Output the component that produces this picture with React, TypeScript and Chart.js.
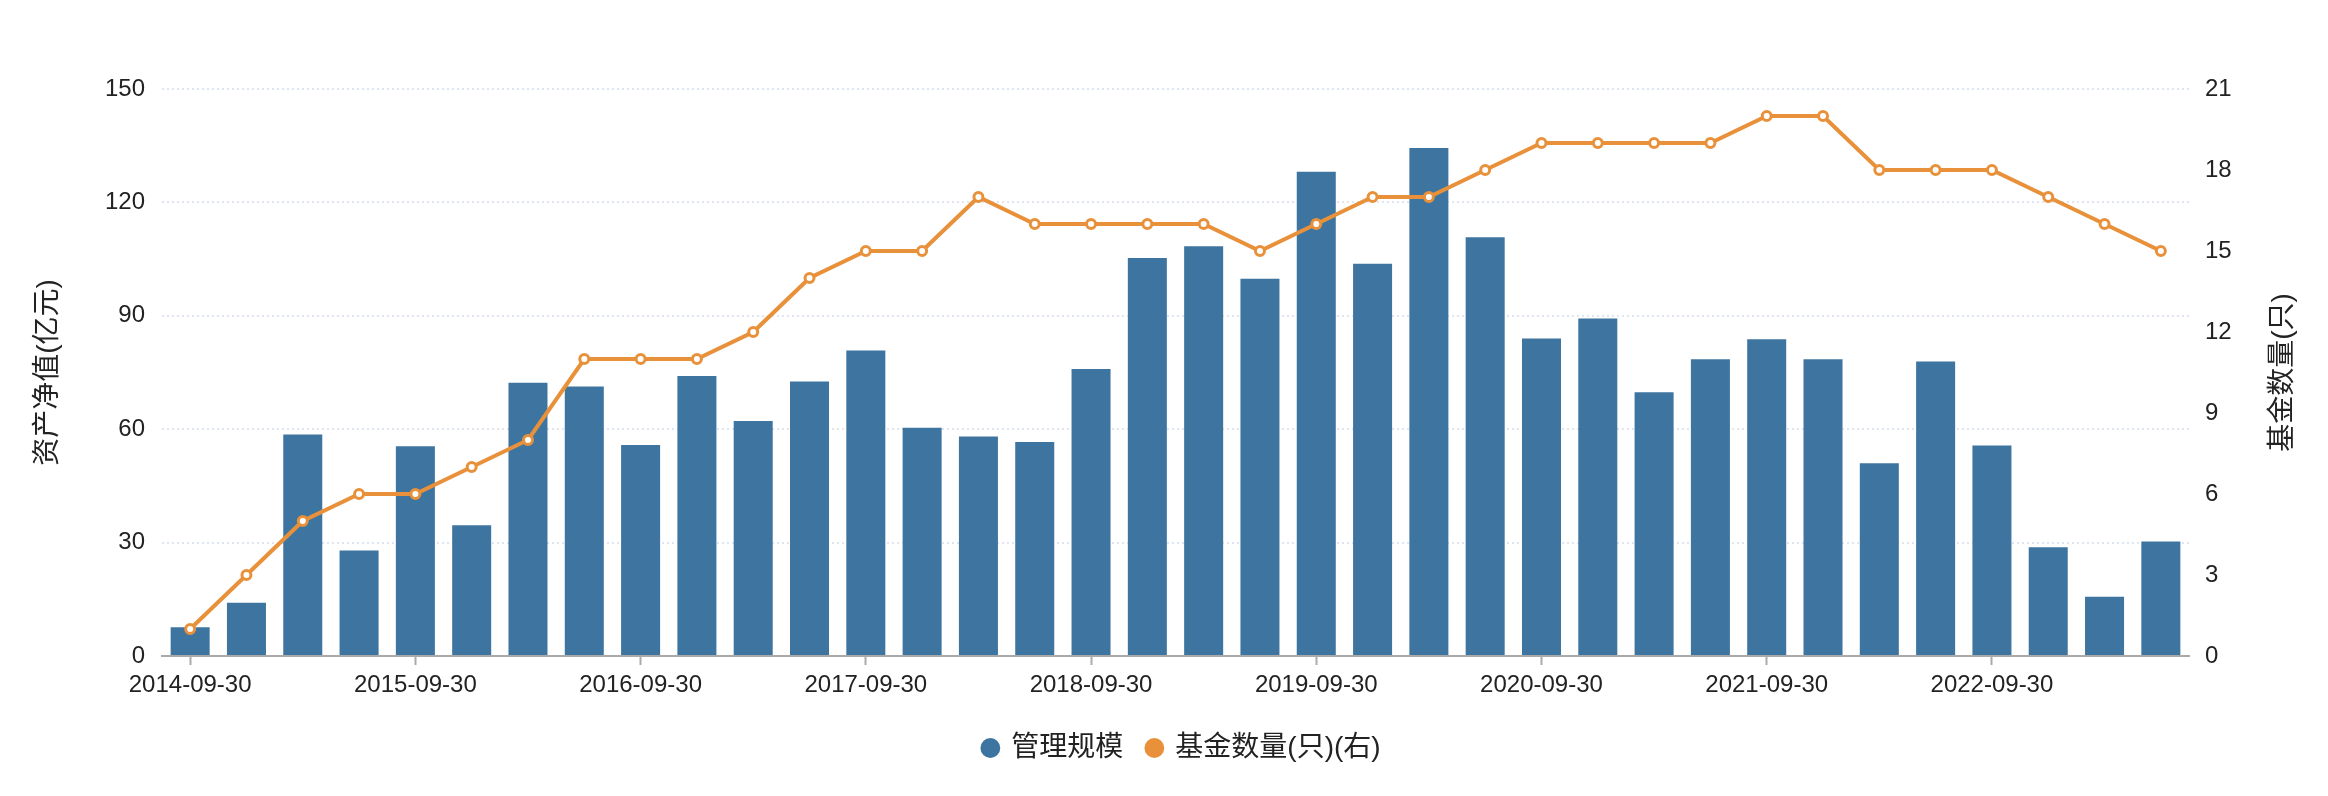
import React, { useEffect, useRef } from "react";
import { Chart, registerables } from "chart.js";

Chart.register(...registerables);

const categories = [
  "2014-09-30", "2014-12-31", "2015-03-31", "2015-06-30",
  "2015-09-30", "2015-12-31", "2016-03-31", "2016-06-30",
  "2016-09-30", "2016-12-31", "2017-03-31", "2017-06-30",
  "2017-09-30", "2017-12-31", "2018-03-31", "2018-06-30",
  "2018-09-30", "2018-12-31", "2019-03-31", "2019-06-30",
  "2019-09-30", "2019-12-31", "2020-03-31", "2020-06-30",
  "2020-09-30", "2020-12-31", "2021-03-31", "2021-06-30",
  "2021-09-30", "2021-12-31", "2022-03-31", "2022-06-30",
  "2022-09-30", "2022-12-31", "2023-03-31", "2023-06-30",
];

const scaleValues = [
  7.6, 14.1, 58.6, 27.9, 55.5, 34.6, 72.3, 71.3, 55.8, 74.1, 62.2, 72.6,
  80.8, 60.4, 58.1, 56.6, 75.9, 105.3, 108.4, 99.8, 128.1, 103.8, 134.4, 110.8,
  84.0, 89.3, 69.8, 78.5, 83.8, 78.5, 51.0, 77.9, 55.7, 28.8, 15.7, 30.3,
];

const fundCounts = [
  1, 3, 5, 6, 6, 7, 8, 11, 11, 11, 12, 14,
  15, 15, 17, 16, 16, 16, 16, 15, 16, 17, 17, 18,
  19, 19, 19, 19, 20, 20, 18, 18, 18, 17, 16, 15,
];

const seriesNames = ["管理规模", "基金数量(只)(右)"];
const seriesColors = ["#3E75A0", "#E8913A"];
const leftAxisTitle = "资产净值(亿元)";
const rightAxisTitle = "基金数量(只)";

const FONT = 'Helvetica, Arial, "Liberation Sans", "Noto Sans CJK SC", sans-serif';
const TEXT_COLOR = "#222";

const rightTitlePlugin = {
  id: "rightTitle",
  afterLayout(chart: any) {
    const l = chart.legend;
    if (l) {
      l.left += 18;
      l.right += 18;
    }
  },
  afterDraw(chart: any) {
    const s = chart.scales.y1;
    const ctx = chart.ctx;
    const area = chart.chartArea;
    ctx.save();
    ctx.translate(s.right - 37, (area.top + area.bottom) / 2);
    ctx.rotate(-Math.PI / 2);
    ctx.font = `28px ${FONT}`;
    ctx.fillStyle = TEXT_COLOR;
    ctx.textAlign = "center";
    ctx.textBaseline = "middle";
    ctx.fillText(rightAxisTitle, 0, 0);
    ctx.restore();
  },
};

export default function App() {
  const canvasRef = useRef<HTMLCanvasElement | null>(null);

  useEffect(() => {
    if (!canvasRef.current) return;
    Chart.defaults.font.family = FONT;
    const chart = new Chart(canvasRef.current, {
      type: "bar",
      data: {
        labels: categories,
        datasets: [
          {
            type: "bar",
            label: seriesNames[0],
            data: scaleValues,
            backgroundColor: seriesColors[0],
            borderWidth: 0,
            barPercentage: 0.693,
            categoryPercentage: 1,
            yAxisID: "y",
            order: 1,
          } as any,
          {
            type: "line",
            label: seriesNames[1],
            data: fundCounts,
            borderColor: seriesColors[1],
            backgroundColor: seriesColors[1],
            borderWidth: 4,
            pointBackgroundColor: "#fff",
            pointBorderColor: seriesColors[1],
            pointBorderWidth: 3,
            pointRadius: 4.5,
            pointStyle: "circle",
            tension: 0,
            yAxisID: "y1",
            order: 0,
          } as any,
        ],
      },
      options: {
        animation: false,
        responsive: true,
        maintainAspectRatio: false,
        layout: { padding: { top: 81, bottom: 16, left: 0, right: 0 } },
        plugins: {
          tooltip: { enabled: false },
          legend: {
            position: "bottom",
            labels: {
              usePointStyle: true,
              pointStyle: "circle",
              boxWidth: 14,
              boxHeight: 14,
              padding: 24,
              color: TEXT_COLOR,
              font: { size: 28, family: FONT },
              sort: (a: any, b: any) => a.datasetIndex - b.datasetIndex,
              generateLabels: (chart: any) =>
                Chart.defaults.plugins.legend.labels
                  .generateLabels(chart)
                  .map((it: any) => ({
                    ...it,
                    fillStyle: seriesColors[it.datasetIndex],
                    pointStyle: "circle",
                    lineWidth: 0,
                    strokeStyle: "rgba(0,0,0,0)",
                  })),
            },
          },
        },
        scales: {
          x: {
            type: "category",
            offset: true,
            afterFit: (scale: any) => {
              scale.height = 54;
            },
            grid: {
              display: true,
              offset: false,
              drawOnChartArea: false,
              drawTicks: true,
              tickLength: 9,
              tickWidth: 2,
              tickColor: (ctx: any) => (ctx.index % 4 === 0 ? "#aaa" : "rgba(0,0,0,0)"),
            },
            border: { display: true, color: "#aaa", width: 2 },
            ticks: {
              autoSkip: false,
              maxRotation: 0,
              minRotation: 0,
              padding: 6,
              color: TEXT_COLOR,
              font: { size: 24 },
              callback: (_v: any, i: number) => (i % 4 === 0 ? categories[i] : ""),
            },
          },
          y: {
            type: "linear",
            position: "left",
            min: 0,
            max: 150,
            afterFit: (scale: any) => {
              scale.width = 154;
            },
            ticks: {
              stepSize: 30,
              padding: 17,
              color: TEXT_COLOR,
              font: { size: 24 },
            },
            grid: {
              color: "#e0e6f1",
              lineWidth: 2,
              drawTicks: false,
            },
            border: { display: false, dash: [2, 3] },
            title: {
              display: true,
              text: leftAxisTitle,
              color: TEXT_COLOR,
              font: { size: 28 },
              padding: { top: 23, bottom: 0 },
            },
          },
          y1: {
            type: "linear",
            position: "right",
            min: 0,
            max: 21,
            afterFit: (scale: any) => {
              scale.width = 131;
            },
            ticks: {
              stepSize: 3,
              padding: 16,
              color: TEXT_COLOR,
              font: { size: 24 },
            },
            grid: { display: false, drawTicks: false },
            border: { display: false },
          },
        },
      },
      plugins: [rightTitlePlugin],
    });
    return () => chart.destroy();
  }, []);

  return (
    <div style={{ position: "relative", width: "100%", height: "780px" }}>
      <canvas ref={canvasRef} />
    </div>
  );
}
